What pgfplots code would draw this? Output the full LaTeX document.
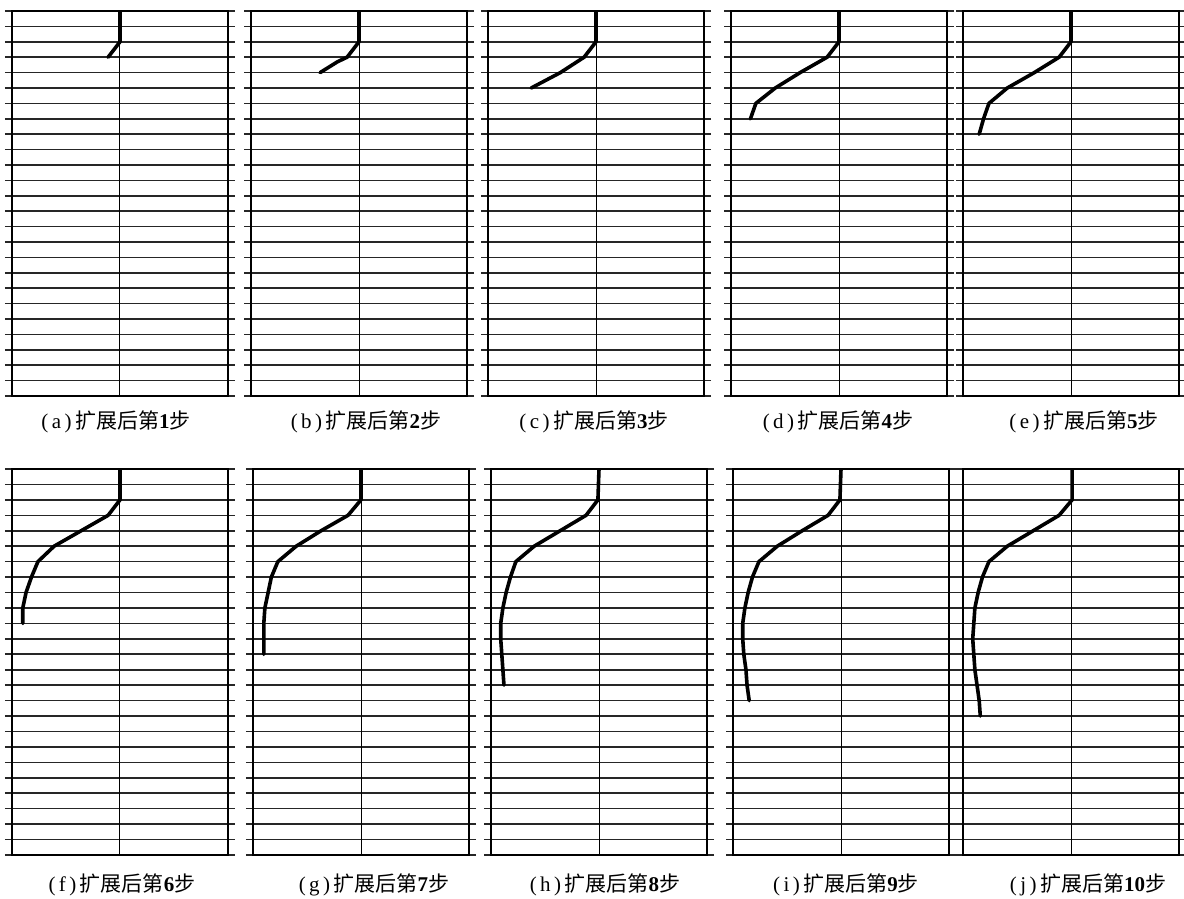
\documentclass[border=0pt]{standalone}
\usepackage{pgfplots}
\pgfplotsset{compat=1.18}
\usepackage{fontspec}
\setmainfont{Liberation Serif}
\newfontfamily\cjk{Noto Sans CJK SC}

\pgfplotsset{panel/.style={
  scale only axis, width=108pt, height=192.5pt,
  anchor=north west,
  xmin=-1, xmax=1, ymin=0, ymax=25, y dir=reverse,
  xtick=\empty, ytick={0,...,25}, yticklabels={},
  ymajorgrids, major grid style={black!85, line width=0.8pt},
  ytick pos=both, tick align=outside, major tick length=3.5pt,
  every tick/.style={black!85, line width=0.8pt},
  axis line style={black, line width=1pt},
}}
\newcommand\lab[2]{{\fontsize{10.5}{12}\selectfont (\,#1\,)\,{\cjk 扩展后第}\textbf{#2}{\cjk 步}}}
\newcommand\curve[1]{%
  \addplot[black, line width=0.5pt] coordinates {(0,0)(0,25)};
  \addplot[black, line width=1.8pt, line join=round, line cap=round] coordinates {#1};}

\begin{document}
\begin{tikzpicture}
\path[use as bounding box] (0,0) rectangle (592pt,-449.5pt);

% top row
\begin{axis}[panel, at={(6pt,-5.5pt)}]
\curve{(0,0)(0,2)(-0.11,3)}
\end{axis}
\begin{axis}[panel, at={(125.5pt,-5.5pt)}]
\curve{(0,0)(0,2)(-0.11,3)(-0.20,3.3)(-0.36,4)}
\end{axis}
\begin{axis}[panel, at={(244pt,-5.5pt)}]
\curve{(0,0)(0,2)(-0.11,3)(-0.33,4)(-0.60,5)}
\end{axis}
\begin{axis}[panel, at={(365.5pt,-5.5pt)}]
\curve{(0,0)(0,2)(-0.11,3)(-0.36,4)(-0.59,5)(-0.77,6)(-0.82,7)}
\end{axis}
\begin{axis}[panel, at={(481.5pt,-5.5pt)}]
\curve{(0,0)(0,2)(-0.11,3)(-0.34,4)(-0.59,5)(-0.76,6)(-0.81,7)(-0.85,8)}
\end{axis}

% bottom row
\begin{axis}[panel, height=193pt, at={(6pt,-234.5pt)}]
\curve{(0,0)(0,2)(-0.11,3)(-0.36,4)(-0.61,5)(-0.76,6)(-0.82,7)(-0.87,8)(-0.90,9)(-0.90,10)}
\end{axis}
\begin{axis}[panel, height=193pt, at={(126.5pt,-234.5pt)}]
\curve{(0,0)(0,2)(-0.12,3)(-0.37,4)(-0.60,5)(-0.77,6)(-0.83,7)(-0.86,8)(-0.89,9)(-0.90,10)(-0.90,11)(-0.90,12)}
\end{axis}
\begin{axis}[panel, height=193pt, at={(245.5pt,-234.5pt)}]
\curve{(0,0)(-0.01,2)(-0.12,3)(-0.36,4)(-0.60,5)(-0.77,6)(-0.82,7)(-0.86,8)(-0.89,9)(-0.91,10)(-0.91,11)(-0.90,12)(-0.89,13)(-0.88,14)}
\end{axis}
\begin{axis}[panel, height=193pt, at={(366.5pt,-234.5pt)}]
\curve{(0,0)(-0.01,2)(-0.12,3)(-0.36,4)(-0.59,5)(-0.76,6)(-0.82,7)(-0.86,8)(-0.89,9)(-0.91,10)(-0.91,11)(-0.90,12)(-0.88,13)(-0.87,14)(-0.85,15)}
\end{axis}
\begin{axis}[panel, height=193pt, at={(481.5pt,-234.5pt)}]
\curve{(0.01,0)(0.01,2)(-0.11,3)(-0.35,4)(-0.59,5)(-0.76,6)(-0.82,7)(-0.86,8)(-0.89,9)(-0.90,10)(-0.91,11)(-0.90,12)(-0.89,13)(-0.87,14)(-0.85,15)(-0.84,16)}
\end{axis}

% labels
\node at (58pt,-211pt) {\lab{a}{1}};
\node at (183pt,-211pt) {\lab{b}{2}};
\node at (297pt,-211pt) {\lab{c}{3}};
\node at (419pt,-211pt) {\lab{d}{4}};
\node at (542pt,-211pt) {\lab{e}{5}};
\node at (61pt,-442.5pt) {\lab{f}{6}};
\node at (187pt,-442.5pt) {\lab{g}{7}};
\node at (302.5pt,-442.5pt) {\lab{h}{8}};
\node at (423pt,-442.5pt) {\lab{i}{9}};
\node at (544pt,-442.5pt) {\lab{j}{10}};
\end{tikzpicture}
\end{document}
